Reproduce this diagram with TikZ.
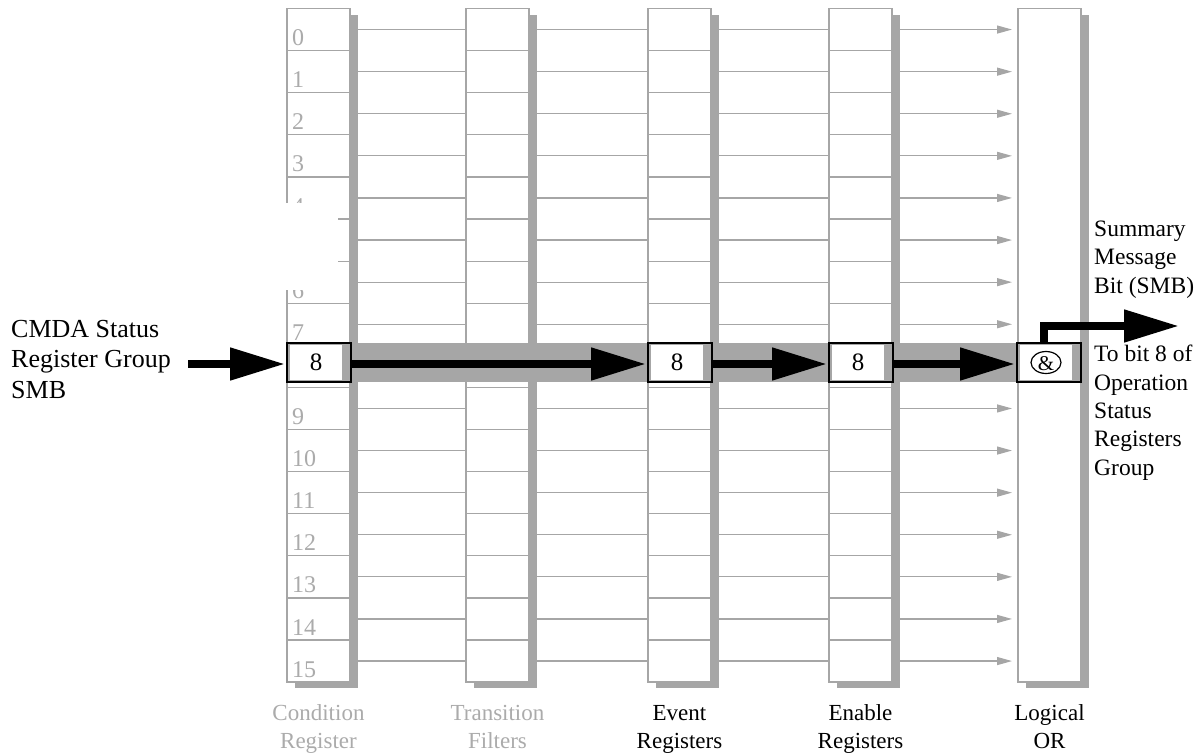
\documentclass[tikz,border=0pt]{standalone}
\usepackage{fontspec}
\setmainfont{Liberation Serif}
\usetikzlibrary{arrows.meta,shadows,calc}
\definecolor{lg}{HTML}{A6A6A6}
\definecolor{tg}{HTML}{ABABAB}
\begin{document}
\begin{tikzpicture}[x=1pt,y=-1pt,
  col/.style={draw=lg, line width=1.3pt, fill=white, minimum width=63pt, minimum height=673.5pt,
    inner sep=0pt, anchor=north west, outer sep=0pt,
    drop shadow={shadow xshift=8pt, shadow yshift=-6pt, fill=lg, opacity=1}},
  sep/.style={draw=lg, line width=1.2pt},
  conn/.style={draw=lg, line width=1.2pt},
  connarrow/.style={conn, -{Triangle[length=15pt,width=8pt]}},
  digit/.style={text=tg, font=\fontsize{24}{24}\selectfont, anchor=base west, inner sep=0pt},
  bbox/.style={draw=black, line width=1.6pt, fill=lg, minimum width=64pt, minimum height=39pt,
    inner sep=0pt, outer sep=0pt, anchor=north west,
    path picture={\fill[white] ($(path picture bounding box.north west)+(3,2)$) rectangle ($(path picture bounding box.south east)+(-9,-2)$);}},
  bigarrow/.style={draw=black, line width=8pt, -{Triangle[length=55pt,width=31pt]}},
  sidetext/.style={font=\fontsize{23.5}{28.3}\selectfont, align=left, anchor=base west, inner sep=0pt},
  bottomtext/.style={font=\fontsize{23}{28}\selectfont, align=center, anchor=base, inner sep=0pt},
]
\useasboundingbox (0,0) rectangle (1203,753);

% columns
\node[col] (c1) at (287,8.5) {};
\node[col] (c2) at (466,8.5) {};
\node[col] (c3) at (648,8.5) {};
\node[col] (c4) at (829,8.5) {};
\node[col] (c5) at (1018,8.5) {};

% row separators
\foreach \c in {c1,c2,c3,c4}{
  \foreach \r in {1,...,15}{
    \draw[sep] ($(\c.north west)+(0,\r*42.1)$) -- ($(\c.north east)+(0,\r*42.1)$);
  }
}

% bit numbers
\foreach \r in {0,...,15}{
  \node[digit] (d\r) at (292,{8.5+(\r+1)*42.1-5}) {\r};
}

% occluding patch
\fill[white] (270,203) rectangle (338,290);

% row connectors
\coordinate (tipx) at (1012,0);
\foreach \r in {0,...,7,9,10,11,12,13,14,15}{
  \coordinate (r\r) at (0,{8.5+(\r+0.5)*42.1});
  \draw[conn] (c1.east |- r\r) -- (c2.west |- r\r);
  \draw[conn] (c2.east |- r\r) -- (c3.west |- r\r);
  \draw[conn] (c3.east |- r\r) -- (c4.west |- r\r);
  \draw[connarrow] (c4.east |- r\r) -- (tipx |- r\r);
}

% highlighted band
\fill[lg] (287,343) rectangle (1081,382);

% bit 8 boxes
\node[bbox, label={[font=\fontsize{25}{25}\selectfont, xshift=-3pt]center:8}] (b1) at (287,343) {};
\node[bbox, label={[font=\fontsize{25}{25}\selectfont, xshift=-3pt]center:8}] (b2) at (648,343) {};
\node[bbox, label={[font=\fontsize{25}{25}\selectfont, xshift=-3pt]center:8}] (b3) at (829,343) {};
\node[bbox, label={[font=\fontsize{21}{21}\selectfont, xshift=-3pt, yshift=-1pt]center:\&}] (b4) at (1017,343) {};
\draw[line width=1.2pt] ([xshift=-3pt]b4.center) ellipse [x radius=15, y radius=11];

% black arrows
\coordinate (inS) at (188,364);
\draw[bigarrow] (inS) -- ([xshift=-2pt]inS -| b1.west);
\draw[bigarrow] (b1.east |- inS) -- ([xshift=-2pt]inS -| b2.west);
\draw[bigarrow] (b2.east |- inS) -- ([xshift=-2pt]inS -| b3.west);
\draw[bigarrow] (b3.east |- inS) -- ([xshift=-2pt]inS -| b4.west);
\coordinate (smb) at (1179,326);
\draw[bigarrow, line join=miter] ([xshift=-5pt]b4.north) |- (smb);

% texts (base anchor = last line baseline)
\node[sidetext, font=\fontsize{26}{30.5}\selectfont] (src) at (11,398) {CMDA Status\\Register Group\\SMB};
\node[sidetext] (smbt) at (1094,293) {Summary\\Message\\Bit (SMB)};
\node[sidetext] (dest) at (1094,475) {To bit 8 of\\Operation\\Status\\Registers\\Group};

\node[bottomtext, text=tg] (l1) at (c1.south |- 0,748) {Condition\\Register};
\node[bottomtext, text=tg] (l2) at (c2.south |- 0,748) {Transition\\Filters};
\node[bottomtext] (l3) at (c3.south |- 0,748) {Event\\Registers};
\node[bottomtext] (l4) at (c4.south |- 0,748) {Enable\\Registers};
\node[bottomtext] (l5) at (c5.south |- 0,748) {Logical\\OR};
\end{tikzpicture}
\end{document}
